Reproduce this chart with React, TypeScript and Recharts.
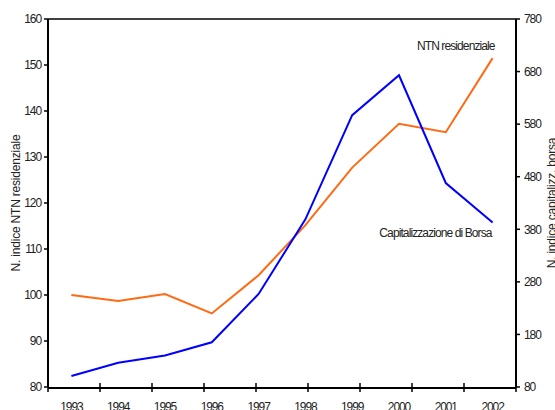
import { LineChart, Line, XAxis, YAxis, LabelList, ReferenceLine } from "recharts";

const years = ["1993", "1994", "1995", "1996", "1997", "1998", "1999", "2000", "2001", "2002"];
const ntnResidenziale = [100.0, 98.7, 100.2, 96.0, 104.3, 115.2, 127.7, 137.2, 135.4, 151.5];
const capitalizzBorsa = [101, 126, 140, 165, 257, 399, 597, 673, 468, 393];
const leftTicks = [80, 90, 100, 110, 120, 130, 140, 150, 160];
const rightTicks = [80, 180, 280, 380, 480, 580, 680, 780];
const edgeTicks = [0, 1, 2, 3, 4, 5, 6, 7, 8, 9, 10];

const data = years.map((y, i) => ({ year: y, ntn: ntnResidenziale[i], borsa: capitalizzBorsa[i] }));

// niente font "narrow" installato: stringo le lettere
const sans = "'Liberation Sans', Arial, sans-serif";
const tickStyle = { fontFamily: sans, fontSize: 12, letterSpacing: -1.1, fill: "#222" };

// trattini fra le categorie, a cavallo dell'asse
const EdgeTick = (props: any) => (
  <line x1={props.x} x2={props.x} y1={props.y - 4} y2={props.y + 5} stroke="#000" strokeWidth={1.5} />
);

const endLabel = (text: string, dx: number, dy: number) => (props: any) => {
  if (props.index !== years.length - 1) return null;
  return (
    <text x={Number(props.x) + dx} y={Number(props.y) + dy} textAnchor="end"
      fontFamily={sans} fontSize={12} letterSpacing={-0.9} fill="#222">{text}</text>
  );
};

export default function App() {
  return (
    <div style={{ position: "absolute", left: 0, top: 0, background: "#fff" }}>
      <LineChart width={555} height={410} data={data} margin={{ top: 19, right: 0, bottom: 21, left: 0 }}>
        <XAxis xAxisId="years" dataKey="year" scale="band" height={1} tickLine={false} tickSize={0} tickMargin={14}
          axisLine={{ stroke: "#000", strokeWidth: 2 }} tick={tickStyle} interval={0} />
        <XAxis xAxisId="edges" type="number" domain={[0, years.length]} ticks={edgeTicks}
          allowDataOverflow height={1} axisLine={false} tickLine={false} tickSize={0} tickMargin={0}
          tick={<EdgeTick />} interval={0} />
        <YAxis yAxisId="left" domain={[80, 160]} ticks={leftTicks} width={48} interval={0}
          axisLine={{ stroke: "#000", strokeWidth: 2 }} tickLine={{ stroke: "#000", strokeWidth: 1.5 }}
          tickSize={4} tickMargin={3} tick={tickStyle}
          label={{ value: "N. indice NTN residenziale", angle: -90, position: "insideLeft", offset: 16,
            style: { textAnchor: "middle", fontFamily: sans, fontSize: 12, letterSpacing: -0.2, fill: "#222" } }} />
        <YAxis yAxisId="right" orientation="right" domain={[80, 780]} ticks={rightTicks} width={39} interval={0}
          axisLine={{ stroke: "#000", strokeWidth: 2 }} tickLine={{ stroke: "#000", strokeWidth: 1.5 }}
          tickSize={4} tickMargin={4} tick={tickStyle}
          label={{ value: "N. indice capitalizz. borsa", angle: -90, position: "insideRight", offset: 3,
            style: { textAnchor: "middle", fontFamily: sans, fontSize: 12, letterSpacing: -0.2, fill: "#222" } }} />
        <ReferenceLine xAxisId="years" yAxisId="left" y={160} stroke="#000" strokeWidth={1.5} />
        <Line xAxisId="years" yAxisId="left" dataKey="ntn" stroke="#FF6A13" strokeWidth={2} dot={false} isAnimationActive={false}>
          <LabelList dataKey="ntn" content={endLabel("NTN residenziale", 2, -8)} />
        </Line>
        <Line xAxisId="years" yAxisId="right" dataKey="borsa" stroke="#0000FF" strokeWidth={2} dot={false} isAnimationActive={false}>
          <LabelList dataKey="borsa" content={endLabel("Capitalizzazione di Borsa", -1, 15)} />
        </Line>
      </LineChart>
    </div>
  );
}
